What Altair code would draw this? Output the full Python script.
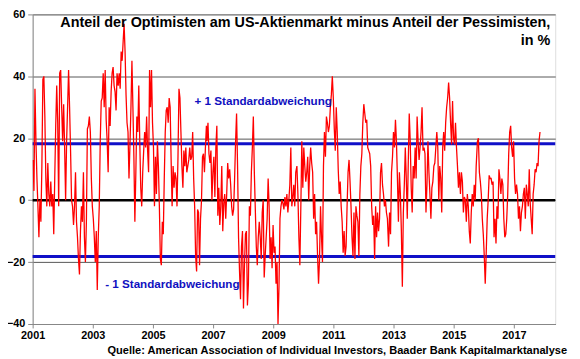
import altair as alt
import pandas as pd

# AAII bull-bear spread (approx. every ~12 days)
s2001_2003 = [13, 3, 36, 19, 7, -2, -12, 0, -7, 11, 39, 40, 27, 7, -2, 12, 2, -2, 6, -2, 2, -11, 7, 24, 37, 25, -2,
              41, 42, 30, 19, 31, 17, 0, 19, 30, 42, 30, 16, 0, -2, -8, -2, 9, -7, -12, -19, -24, -10, -2, -7, 9,
              -12, -20, -7, 23, 24, 27, 22, 7, -2, -6, -12, -20, -10, -29, -12, -2, 19, 32, 33, 41, 30, 42, 26, 19,
              9, 30, 24, 35, 41, 43, 37, 35, 29, 41]
s2003_2006 = [37, 41, 36, 48, 45, 51, 57, 48, 34, 25, 22, 7, 18, 30, 45, 30, 14, -7, 9, 27, 22, 37, 19, 4, -2, 9, 16,
              22, 17, 27, 16, 9, 42, 30, 42, 25, 17, -2, 14, 2, 19, 11, -2, -19, -21, -7, -11, 7, 22, 29, 30, 25, 33,
              30, 13, -2, 11, 4, 9, 7, -2, 14, 36, 33, 22, 11, 4, 16, 11, 17, 9, 11, 13, 17, 13, 14, 22, 7, -2, -18,
              -23, -3, -4, -21, -6, 0, 14, 15, 9, 17, 24]
s2006_2009 = [19, 25, 15, 12, 16, 0, 9, 14, 1, 17, 24, -5, 4, -8, -2, 11, -10, -1, 2, -6, 2, 12, 7, 10, 5, -2, -5,
              -3, 7, 19, 28, 11, -12, -23, -32, -15, -10, -35, -21, -11, -10, -34, -27, -2, -5, 9, 17, 27, 9, -3,
              -15, -21, -12, -7, -12, -19, -4, 0, -25, -18, -12, -6, 7, -2, -19, -12, -22, -8, -17, -15, -27, -20,
              -40, -28, -6, -2, 0, -1, -3, 1, -2, 2, -4, 0, 5, 17, -2, 1, 5, -2, 9]
s2009_2012 = [11, 2, -12, -21, -2, 19, 4, 17, 11, 6, 9, 14, 0, 11, 17, 12, 9, -6, 2, -11, -7, -18, -27, -19, -2, -12,
              -20, 11, 22, 14, 27, 25, 22, 24, 30, 34, 40, 33, 23, 16, 30, 22, 10, 2, 6, -2, -7, -17, -10, -18, -15,
              -2, 9, 13, 6, -2, -12, -18, -4, -19, -2, -5, -7, -18, 2, 11, 15, 25, 31, 28, 25, 26, 17, 16, 15, 11,
              -2, -8, -5, -19, -2, -12, -4, -10, -6, 9, 12, 5, 2, -2, 0, -4, -6]
s2012_2015 = [-15, -4, -11, 9, 14, 22, 17, 26, 19, 7, -7, 9, 2, -10, -28, -4, 5, 17, 7, -6, 12, 28, 19, 4, -4, 11, 7,
              17, 7, 27, 19, 13, 17, 22, 30, 16, 17, 15, -4, 5, 19, 9, 2, -6, 4, 6, 11, 12, 17, 22, 17, 0, 11, 7, -4,
              17, 22, 16, 25, 30, 33, 38, 33, 25, 18, 32, 20, 18, 25, 17, 11, 4, 9, 2, 9, 6, -4, 1, 0, -7, 2, -2,
              -10, -14, -4, 2, -2, 5, 0, 11]
s2015_2017 = [19, 20, 9, 6, 2, -6, -11, -18, -27, -17, -6, 0, 8, 7, 7, 5, 6, -12, -6, -14, -2, -6, 10, 7, 2, 7, 5,
              -6, -12, -11, -6, 2, 15, 22, 24, 17, 14, 19, 7, 2, 5, 2, -6, -2, -10, -4, -2, 2, 4, -6, 5, 2, -2, 10,
              -1, -6, -11, 2, 5, 10, 9, 12, 11, 19, 22]

segment_starts = ["2001-01-05", "2003-11-06", "2006-10-19", "2009-10-15", "2012-11-01", "2015-10-16"]
segment_ends = ["2003-10-23", "2006-10-12", "2009-10-01", "2012-10-18", "2015-10-01", "2017-11-14"]
segments = [s2001_2003, s2003_2006, s2006_2009, s2009_2012, s2012_2015, s2015_2017]

std_dev = 18.2
year_ticks = list(range(2001, 2018, 2))
y_ticks = [-40, -20, 0, 20, 40, 60]

title_line1 = "Anteil der Optimisten am US-Aktienmarkt minus Anteil der Pessimisten,"
title_line2 = "in %"
source = "Quelle: American Association of Individual Investors, Baader Bank Kapitalmarktanalyse"

frames = []
for vals, a, b in zip(segments, segment_starts, segment_ends):
    frames.append(pd.DataFrame({"date": pd.date_range(a, b, periods=len(vals)), "spread": vals}))
df = pd.concat(frames, ignore_index=True)

FONT = "Liberation Sans"
xscale = alt.Scale(domain=[alt.DateTime(year=2001, month=1, date=1), alt.DateTime(year=2018, month=5, date=18)])
yscale = alt.Scale(domain=[-40, 60], nice=False)

xaxis = alt.Axis(values=[alt.DateTime(year=y, month=1, date=1) for y in year_ticks], format="%Y", title=None,
                 grid=False, tickSize=4, tickColor="#888888", domainColor="#888888", labelFontSize=11,
                 labelFontWeight="bold", labelColor="black", labelPadding=2, labelFlush=False, labelFont=FONT)
yaxis = alt.Axis(values=y_ticks, title=None, grid=True, gridColor="#555555", gridWidth=1, tickSize=5,
                 tickColor="#888888", domainColor="#888888", labelFontSize=11, labelFontWeight="bold",
                 labelColor="black", labelPadding=3, labelFont=FONT)

base = alt.Chart(df)

line = base.mark_line(color="#FF0000", strokeWidth=1.3, clip=True).encode(
    x=alt.X("date:T", scale=xscale, axis=xaxis),
    y=alt.Y("spread:Q", scale=yscale, axis=yaxis),
)

std_df = pd.DataFrame({"v": [std_dev, -std_dev]})
std_rules = alt.Chart(std_df).mark_rule(color="#1010C8", strokeWidth=3).encode(y=alt.Y("v:Q", scale=yscale))
zero_rule = alt.Chart(pd.DataFrame({"v": [0]})).mark_rule(color="black", strokeWidth=2.5).encode(
    y=alt.Y("v:Q", scale=yscale))

lab_df = pd.DataFrame({
    "date": pd.to_datetime(["2008-09-01", "2005-08-25"]),
    "v": [32, -27],
    "t": ["+ 1 Standardabweichung", "- 1 Standardabweichung"],
})
std_labels = alt.Chart(lab_df).mark_text(color="#1010C0", fontSize=11.8, fontWeight="bold", font=FONT,
                                         baseline="middle", align="center").encode(
    x=alt.X("date:T", scale=xscale), y=alt.Y("v:Q", scale=yscale), text="t:N")

t1 = alt.Chart(pd.DataFrame({"t": [title_line1]})).mark_text(
    align="right", baseline="alphabetic", fontSize=14.6, fontWeight="bold", font=FONT, color="black").encode(
    x=alt.value(525), y=alt.value(13), text="t:N")
t2 = alt.Chart(pd.DataFrame({"t": [title_line2]})).mark_text(
    align="right", baseline="alphabetic", fontSize=14.6, fontWeight="bold", font=FONT, color="black").encode(
    x=alt.value(525), y=alt.value(31), text="t:N")
src = alt.Chart(pd.DataFrame({"t": [source]})).mark_text(
    align="right", baseline="alphabetic", fontSize=11.2, fontWeight="bold", font=FONT, color="black").encode(
    x=alt.value(542), y=alt.value(344), text="t:N")

chart = alt.layer(std_rules, zero_rule, line, std_labels, t1, t2, src).properties(
    width=530, height=314,
    autosize=alt.AutoSizeParams(type="none"),
    padding={"left": 25, "top": 4, "right": 17, "bottom": 33},
).configure_view(stroke="#888888", strokeWidth=1).configure(font=FONT, background="white")

chart.save("out.html", embed_options={"renderer": "svg", "actions": False})
